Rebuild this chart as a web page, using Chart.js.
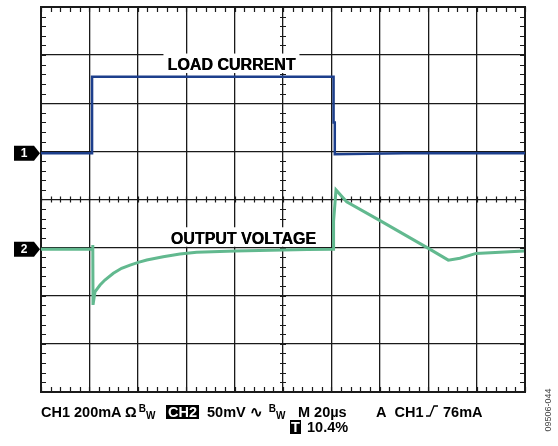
<!DOCTYPE html>
<html>
<head>
<meta charset="utf-8">
<script src="https://cdn.jsdelivr.net/npm/chart.js@4/dist/chart.umd.min.js"></script>
<style>
  html, body { margin:0; padding:0; background:#fff; }
  #wrap { position:relative; width:558px; height:446px; overflow:hidden; font-family:"Liberation Sans", Arial, sans-serif; }
  #c { position:absolute; left:0; top:0; }
  .t { position:absolute; font-weight:bold; font-size:14.5px; line-height:14px; color:#000; white-space:nowrap; }
  .sup { font-size:10px; position:relative; top:-5px; margin-left:2px; }
  .sub { font-size:10px; position:relative; top:2px; }
  .inv { background:#000; color:#fff; padding:0 2px; }
  .code { position:absolute; font-size:9px; color:#444; white-space:nowrap; transform:rotate(-90deg); transform-origin:center center; }
</style>
</head>
<body>
<div id="wrap">
  <canvas id="c" width="558" height="446"></canvas>
  <span class="t" style="left:41px;top:405px;">CH1 200mA Ω<span class="sup">B</span><span class="sub">W</span></span>
  <span class="t inv" style="left:166px;top:405px;">CH2</span>
  <span class="t" style="left:207px;top:405px;">50mV ∿ <span class="sup">B</span><span class="sub">W</span></span>
  <span class="t" style="left:298px;top:405px;">M 20µs</span>
  <span class="t" style="left:376px;top:405px;">A&nbsp;&nbsp;CH1</span>
  <svg style="position:absolute;left:425px;top:404px;" width="14" height="14"><polyline points="1,12 5,12 9,2 13,2" fill="none" stroke="#000" stroke-width="1.3"/></svg>
  <span class="t" style="left:443px;top:405px;">76mA</span>
  <span class="t inv" style="left:290px;top:420px;padding:0 1px;">T</span>
  <span class="t" style="left:307px;top:420px;">10.4%</span>
  <span class="code" style="left:525px;top:405px;width:45px;text-align:center;">09506-044</span>
</div>
<script>
// Time axis in microseconds (M 20µs/div, 10 divisions)
const xMin = 0, xMax = 200, xStep = 20;
// Vertical axis in screen divisions (8 divisions, centre = 0)
const yMin = -4, yMax = 4, yStep = 1;

// CH1 – load current (divisions)
const ch1Time = [0, 21.1, 21.1, 120.9, 120.9, 121.4, 121.4, 150, 200];
const ch1Div  = [0.96, 0.96, 2.55, 2.55, 1.60, 1.60, 0.94, 0.96, 0.96];

// CH2 – output voltage (divisions)
const ch2Time = [0, 21.4, 21.4, 21.5, 22.3, 24.4, 26.4, 29.9, 33.3, 36.8, 40.2, 43.7, 50.5, 57.4, 64.3, 80.2, 100, 110, 120.8, 120.9, 121.9, 126.3, 140.1, 159.9, 168.3, 173.1, 179.8, 199.6];
const ch2Div  = [-1.035, -1.03, -0.946, -2.19, -1.917, -1.778, -1.674, -1.534, -1.430, -1.362, -1.306, -1.258, -1.189, -1.133, -1.098, -1.07, -1.05, -1.04, -1.035, -0.45, 0.20, -0.046, -0.44, -1.01, -1.26, -1.22, -1.12, -1.07];

// Channel ground markers
const markerLabels = ["1", "2"];
const markerLevels = [0.96, -1.035];

// Trace labels: text, centre time, baseline level
const traceLabels = ["LOAD CURRENT", "OUTPUT VOLTAGE"];
const traceLabelTime = [78.7, 83.6];
const traceLabelLevel = [2.69, -0.92];

const ch1Color = "#1d3f8c";
const ch2Color = "#62b98f";

function toPts(xs, ys){ return xs.map((x,i)=>({x:x, y:ys[i]})); }

const scopePlugin = {
  id: 'scope',
  beforeDatasetsDraw(chart){
    const ctx = chart.ctx, xs = chart.scales.x, ys = chart.scales.y, a = chart.chartArea;
    ctx.save();
    ctx.strokeStyle = '#1a1a1a';
    ctx.lineWidth = 1.2;
    const cx = xs.getPixelForValue((xMin+xMax)/2), cy = ys.getPixelForValue((yMin+yMax)/2);
    ctx.beginPath();
    for (let v = xMin; v <= xMax + 1e-6; v += xStep/5) {
      const px = Math.round(xs.getPixelForValue(v)) + 0.5;
      ctx.moveTo(px, a.top); ctx.lineTo(px, a.top + 5);
      ctx.moveTo(px, a.bottom); ctx.lineTo(px, a.bottom - 5);
      ctx.moveTo(px, cy - 3); ctx.lineTo(px, cy + 3);
    }
    for (let v = yMin; v <= yMax + 1e-6; v += yStep/5) {
      const py = Math.round(ys.getPixelForValue(v)) + 0.5;
      ctx.moveTo(a.left, py); ctx.lineTo(a.left + 5, py);
      ctx.moveTo(a.right, py); ctx.lineTo(a.right - 5, py);
      ctx.moveTo(cx - 3, py); ctx.lineTo(cx + 3, py);
    }
    ctx.stroke();
    ctx.lineWidth = 2;
    ctx.strokeRect(a.left, a.top, a.right - a.left, a.bottom - a.top);
    ctx.font = 'bold 16px "Liberation Sans", Arial, sans-serif';
    ctx.textAlign = 'center';
    ctx.textBaseline = 'alphabetic';
    traceLabels.forEach((t,i)=>{
      const px = xs.getPixelForValue(traceLabelTime[i]);
      const py = ys.getPixelForValue(traceLabelLevel[i]);
      const w = ctx.measureText(t).width;
      ctx.fillStyle = '#fff';
      ctx.fillRect(px - w/2 - 4, py - 16.5, w + 8, 19.5);
      ctx.fillStyle = '#000';
      ctx.fillText(t, px, py);
      ctx.fillText(t, px + 0.4, py);
    });
    ctx.restore();
  },
  afterDraw(chart){
    const ctx = chart.ctx, ys = chart.scales.y, a = chart.chartArea;
    ctx.save();
    markerLabels.forEach((m,i)=>{
      const py = ys.getPixelForValue(markerLevels[i]);
      const tip = a.left - 1;
      ctx.fillStyle = '#000';
      ctx.beginPath();
      ctx.moveTo(tip - 26, py - 7.5);
      ctx.lineTo(tip - 6, py - 7.5);
      ctx.lineTo(tip, py);
      ctx.lineTo(tip - 6, py + 7.5);
      ctx.lineTo(tip - 26, py + 7.5);
      ctx.closePath();
      ctx.fill();
      ctx.fillStyle = '#fff';
      ctx.font = 'bold 12px "Liberation Sans", Arial, sans-serif';
      ctx.textAlign = 'center';
      ctx.textBaseline = 'middle';
      ctx.fillText(m, tip - 16, py + 0.5);
    });
    ctx.restore();
  }
};

new Chart(document.getElementById('c'), {
  type: 'scatter',
  data: {
    datasets: [
      { label: 'CH1', data: toPts(ch1Time, ch1Div), showLine: true, borderColor: ch1Color, borderWidth: 2.5, pointRadius: 0, tension: 0 },
      { label: 'CH2', data: toPts(ch2Time, ch2Div), showLine: true, borderColor: ch2Color, borderWidth: 3, pointRadius: 0, tension: 0 }
    ]
  },
  options: {
    responsive: false,
    animation: false,
    devicePixelRatio: 1,
    layout: { padding: { left: 41, right: 33, top: 7, bottom: 54 } },
    plugins: { legend: { display: false }, tooltip: { enabled: false } },
    scales: {
      x: { type: 'linear', min: xMin, max: xMax,
           ticks: { display: false, stepSize: xStep },
           grid: { color: '#1a1a1a', lineWidth: 1.3, drawTicks: false },
           border: { display: false } },
      y: { type: 'linear', min: yMin, max: yMax,
           ticks: { display: false, stepSize: yStep },
           grid: { color: '#1a1a1a', lineWidth: 1.3, drawTicks: false },
           border: { display: false } }
    }
  },
  plugins: [scopePlugin]
});
</script>
</body>
</html>
